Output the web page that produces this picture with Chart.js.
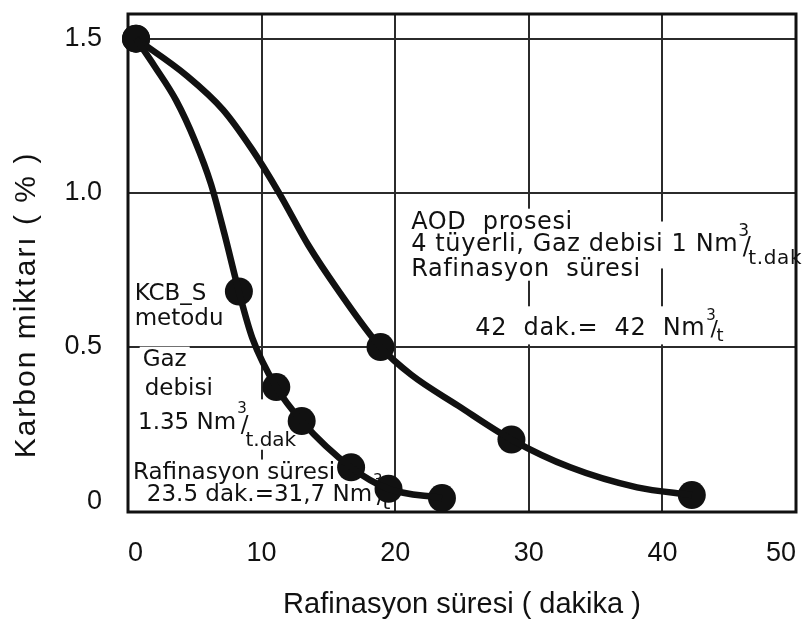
<!DOCTYPE html>
<html lang="tr">
<head>
<meta charset="utf-8">
<title>Karbon miktarı – Rafinasyon süresi</title>
<script src="https://cdn.jsdelivr.net/npm/chart.js@4"></script>
<style>
  html, body { margin: 0; padding: 0; background: #fff; }
  .chart-wrap { position: relative; width: 810px; height: 628px; }
</style>
</head>
<body>
<div class="chart-wrap"><canvas id="chart-carbon"></canvas></div>
<script>
// KCB-S metodu: ölçüm noktaları (dakika, % C)
const kcbMarkX = [0.6, 8.3, 11.1, 13.0, 16.7, 19.5, 23.5]
const kcbMarkY = [1.5, 0.68, 0.37, 0.26, 0.11, 0.04, 0.01]
// KCB-S eğrisi boyunca okunan değerler
const kcbCurveX = [0.6, 2.0, 3.6, 5.0, 6.2, 7.2, 8.3, 9.3, 11.1, 13.0, 16.7, 19.5, 23.5]
const kcbCurveY = [1.5, 1.41, 1.30, 1.17, 1.03, 0.87, 0.68, 0.53, 0.37, 0.26, 0.11, 0.04, 0.01]

// AOD prosesi: ölçüm noktaları ve eğri
const aodMarkX = [0.6, 18.9, 28.7, 42.2]
const aodMarkY = [1.5, 0.5, 0.2, 0.02]
const aodCurveX = [0.6, 4.4, 7.1, 9.3, 11.3, 13.5, 15.8, 18.9, 21.2, 24.7, 28.7, 33.1, 38.1, 42.2]
const aodCurveY = [1.5, 1.38, 1.27, 1.14, 1.0, 0.83, 0.68, 0.5, 0.41, 0.31, 0.2, 0.11, 0.045, 0.02]

const xTicks = [0, 10, 20, 30, 40, 50]
const yTicks = [0, 0.5, 1.0, 1.5]

const AXIS_FONT = '"Liberation Sans", Arial, sans-serif'
const NOTE_FONT = '"DejaVu Sans", sans-serif'
const INK = '#111'
const GRID = '#2b2b2b'

// parts: [text, size, dy, dx]
const notes = [
  { x: 0.5, y: 0.653, size: 23, parts: [['KCB_S']] },
  { x: 0.5, y: 0.57, size: 23, parts: [['metodu']] },
  { x: 1.1, y: 0.438, size: 23, parts: [['Gaz']] },
  { x: 1.25, y: 0.344, size: 23, parts: [['debisi']] },
  { x: 0.75, y: 0.235, size: 23, parts: [['1.35 Nm'], ['3', 15, -16, 1], ['/', 23, 3, -6], ['t.dak', 20, 17, -3]] },
  { x: 0.37, y: 0.072, size: 23, parts: [['Rafinasyon süresi']] },
  { x: 1.41, y: 0.0, size: 23, parts: [['23.5 dak.=31,7 Nm'], ['3', 15, -16, 1], ['/', 23, 2, -6], ['t', 20, 8, -2]] },

  { x: 21.2, y: 0.883, size: 24, spacing: 0.6, parts: [['AOD  prosesi']] },
  { x: 21.2, y: 0.81, size: 24, spacing: 0.6, parts: [['4 tüyerli, Gaz debisi 1 Nm'], ['3', 17, -15, 0], ['/', 24, 3, -7], ['t.dak', 20, 13, -3]] },
  { x: 21.2, y: 0.73, size: 24, spacing: 0.6, parts: [['Rafinasyon  süresi']] },
  { x: 26.0, y: 0.54, size: 24, spacing: 0.6, parts: [['42  dak.=  42  Nm'], ['3', 15, -15, 1], ['/', 22, 1, -6], ['t', 18, 6, -2]] }
]

function layoutNote(ctx, x0, y0, note) {
  let cx = x0
  ctx.letterSpacing = `${note.spacing || 0}px`
  const runs = note.parts.map(([text, size = note.size, dy = 0, dx = 0]) => {
    ctx.font = `${size}px ${NOTE_FONT}`
    cx += dx
    const run = { text, size, x: cx, y: y0 + dy }
    cx += ctx.measureText(text).width
    return run
  })
  const top = Math.min(...runs.map(r => r.y - r.size * 0.76))
  const bottom = Math.max(...runs.map(r => r.y + r.size * 0.15))
  return { runs, spacing: note.spacing || 0, box: [x0 - 3, top - 2, cx - x0 + 6, bottom - top + 3] }
}

const notesAndFrame = {
  id: 'notesAndFrame',
  beforeDatasetsDraw(chart) {
    const { ctx, chartArea: a, scales: { x, y } } = chart
    ctx.save()
    const laid = notes.map(n => layoutNote(ctx, x.getPixelForValue(n.x), y.getPixelForValue(n.y), n))
    // white lettering background first, so neighbouring lines do not cover each other
    ctx.fillStyle = '#fff'
    laid.forEach(l => ctx.fillRect(...l.box))
    ctx.fillStyle = INK
    ctx.textBaseline = 'alphabetic'
    ctx.textAlign = 'left'
    laid.forEach(l => {
      ctx.letterSpacing = `${l.spacing}px`
      l.runs.forEach(r => {
        ctx.font = `${r.size}px ${NOTE_FONT}`
        ctx.fillText(r.text, r.x, r.y)
      })
    })
    ctx.letterSpacing = '0px'
    ctx.strokeStyle = INK
    ctx.lineWidth = 3
    ctx.strokeRect(a.left, a.top, a.right - a.left, a.bottom - a.top)
    ctx.restore()
  },
  afterDraw(chart) {
    const { ctx, chartArea: a } = chart
    ctx.save()
    ctx.translate(27, (a.top + a.bottom) / 2 + 42)
    ctx.rotate(-Math.PI / 2)
    ctx.font = `30px ${AXIS_FONT}`
    ctx.letterSpacing = '2px'
    ctx.fillStyle = INK
    ctx.textAlign = 'center'
    ctx.textBaseline = 'middle'
    ctx.fillText('Karbon miktarı ( % )', 0, 0)
    ctx.restore()
  }
}

const toPoints = (xs, ys) => xs.map((v, i) => ({ x: v, y: ys[i] }))

new Chart(document.getElementById('chart-carbon'), {
  type: 'line',
  data: {
    datasets: [
      { data: toPoints(kcbCurveX, kcbCurveY), borderColor: INK, borderWidth: 6.5, pointRadius: 0,
        cubicInterpolationMode: 'monotone', clip: false },
      { data: toPoints(aodCurveX, aodCurveY), borderColor: INK, borderWidth: 6.5, pointRadius: 0,
        cubicInterpolationMode: 'monotone', clip: false },
      { data: toPoints(kcbMarkX, kcbMarkY), showLine: false, pointRadius: 14,
        pointBackgroundColor: INK, pointBorderWidth: 0, clip: false },
      { data: toPoints(aodMarkX, aodMarkY), showLine: false, pointRadius: 14,
        pointBackgroundColor: INK, pointBorderWidth: 0, clip: false }
    ]
  },
  options: {
    responsive: true,
    maintainAspectRatio: false,
    animation: false,
    layout: { padding: { top: 7, right: 10, left: 0, bottom: 0 } },
    plugins: { legend: { display: false }, tooltip: { enabled: false } },
    scales: {
      x: {
        type: 'linear', min: 0, max: 50,
        afterBuildTicks: s => { s.ticks = xTicks.map(v => ({ value: v })) },
        afterFit: s => { s.height = 116; s.paddingLeft = 0; s.paddingRight = 0 },
        grid: { color: GRID, lineWidth: 2, drawTicks: false },
        border: { display: false },
        ticks: { padding: 25, align: 'inner', maxRotation: 0, color: INK, font: { family: AXIS_FONT, size: 27 } },
        title: { display: true, text: 'Rafinasyon süresi ( dakika )', color: INK,
          font: { family: AXIS_FONT, size: 29 }, padding: { top: 0, bottom: 6 } }
      },
      y: {
        type: 'linear', min: -0.035, max: 1.58,
        afterBuildTicks: s => { s.ticks = yTicks.map(v => ({ value: v })) },
        afterFit: s => { s.width = 128; s.paddingTop = 0; s.paddingBottom = 0 },
        grid: {
          color: c => (c.tick && c.tick.value === 0 ? 'rgba(0,0,0,0)' : GRID),
          lineWidth: 2, drawTicks: false
        },
        border: { display: false },
        ticks: { padding: 26, color: INK, font: { family: AXIS_FONT, size: 27 },
          callback: v => (v === 0 ? '0' : v.toFixed(1)) }
      }
    }
  },
  plugins: [notesAndFrame]
})
</script>
</body>
</html>
